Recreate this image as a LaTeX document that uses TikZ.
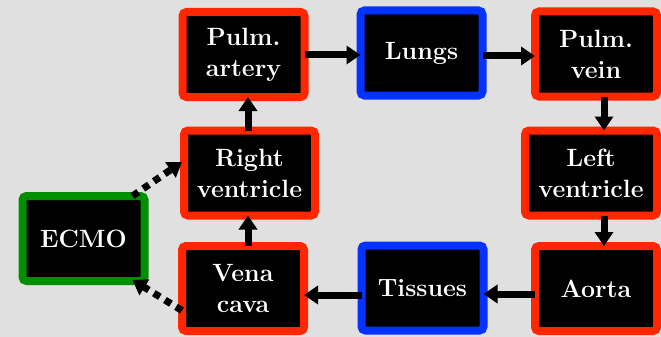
\documentclass[tikz,border=0pt]{standalone}
\usetikzlibrary{arrows.meta,calc}
\definecolor{bg}{RGB}{224,224,224}
\definecolor{kred}{RGB}{255,38,0}
\definecolor{kblue}{RGB}{4,51,255}
\definecolor{kgreen}{RGB}{0,143,0}
\begin{document}
\begin{tikzpicture}[x=1pt,y=-1pt,
  box/.style={fill=black, line width=8pt, rounded corners=4pt, minimum width=122pt,
    minimum height=85pt, inner sep=0pt, outer sep=0pt, text=white, align=center,
    font=\fontsize{25}{31}\selectfont\bfseries},
  redbox/.style={box, draw=kred},
  bluebox/.style={box, draw=kblue},
  greenbox/.style={box, draw=kgreen},
  arr/.style={line width=7pt, -{Triangle[length=14pt,width=18pt]}},
  darr/.style={arr, dash pattern=on 7pt off 6pt}]
\fill[bg] (0,0) rectangle (661,337);
\useasboundingbox (0,0) rectangle (661,337);

\node[redbox] (pa) at (243.5,54.5) {Pulm.\\artery};
\node[bluebox] (lu) at (421.5,53) {Lungs};
\node[redbox] (pv) at (596,54) {Pulm.\\vein};
\node[redbox, minimum width=131pt] (rv) at (249.5,173) {Right\\ventricle};
\node[redbox, minimum width=132pt] (lv) at (591,173) {Left\\ventricle};
\node[greenbox] (ec) at (83.5,238.5) {ECMO};
\node[redbox] (vc) at (243,288.5) {Vena\\cava};
\node[bluebox] (ti) at (422.5,288) {Tissues};
\node[redbox] (ao) at (596,288.5) {Aorta};

\draw[arr] ($(pa.east)+(0,0.5)$) -- ($(lu.west)+(0,2)$);
\draw[arr] ($(lu.east)+(0,3)$) -- ($(pv.west)+(0,2)$);
\draw[arr] ($(pv.south)+(8,0)$) -- ($(lv.north)+(13,0)$);
\draw[arr] ($(lv.south)+(13,0)$) -- ($(ao.north)+(8,0)$);
\draw[arr] ($(ao.west)+(0,5.5)$) -- ($(ti.east)+(0,6)$);
\draw[arr] ($(ti.west)+(0,7)$) -- ($(vc.east)+(0,6.5)$);
\draw[arr] ($(vc.north)+(5,0)$) -- ($(rv.south)+(-1.5,0)$);
\draw[arr] ($(rv.north)+(-1.5,0)$) -- ($(pa.south)+(4.5,0)$);

\draw[darr] ($(ec.north east)+(-12,0)$) -- ($(rv.west)+(-2,-11)$);
\draw[darr] ($(vc.west)+(0,22)$) -- ($(ec.south east)+(-12,-1)$);
\end{tikzpicture}
\end{document}
